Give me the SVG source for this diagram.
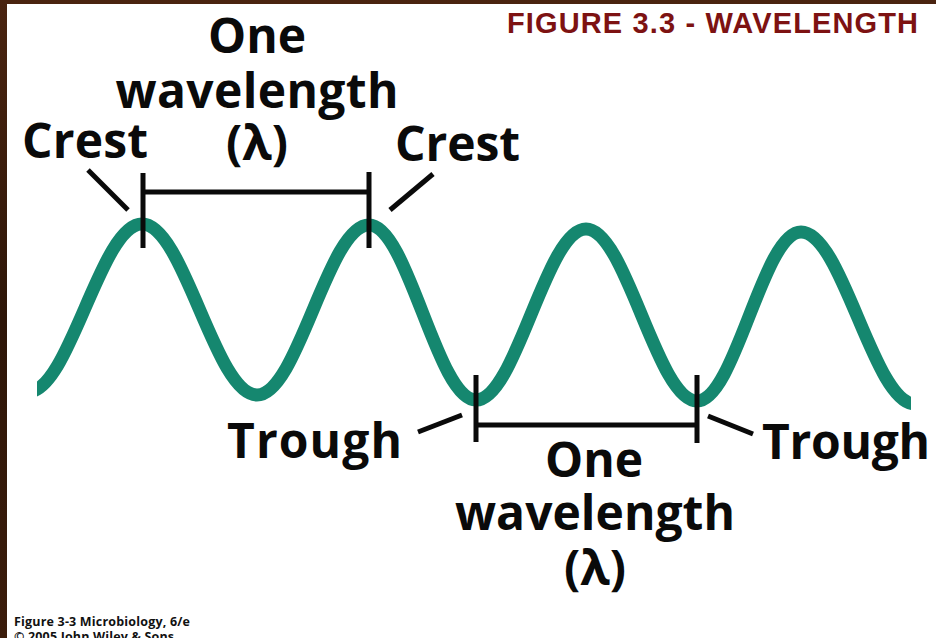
<svg xmlns="http://www.w3.org/2000/svg" width="936" height="638" viewBox="0 0 936 638">
<style>
.lbl{font-family:"Open Sans","DejaVu Sans",sans-serif;font-weight:700;font-size:48px;fill:#0a0a0a}
.mid{text-anchor:middle}
.ln{stroke:#0a0a0a;stroke-width:5;fill:none}
.wave{stroke:#15876f;stroke-width:13;fill:none}
</style>
<defs>
<linearGradient id="wood" x1="0" y1="0" x2="0" y2="1">
<stop offset="0" stop-color="#4a2410"/>
<stop offset="0.5" stop-color="#2e1608"/>
<stop offset="1" stop-color="#3b1c0b"/>
</linearGradient>
<clipPath id="wclip"><rect x="37" y="0" width="874" height="638"/></clipPath>
</defs>
<rect x="0" y="0" width="936" height="638" fill="url(#wood)"/>
<rect x="7" y="4" width="929" height="634" fill="#ffffff"/>

<g id="title"><text x="918" y="33" text-anchor="end" font-family="'Liberation Sans',Arial,sans-serif" font-weight="700" font-size="29" fill="#7d1212" textLength="411">FIGURE 3.3 - WAVELENGTH</text></g>

<g id="wave"><path class="wave" clip-path="url(#wclip)" d="M28,392 C69.5,392 100.5,224 142,224 C184,224 215,395 257,395 C298,395 328,225 369,225 C408,225 437,400 476,400 C516,400 546,229 586,229 C626,229 657,401 697,401 C735,401 763,232 801,232 C842.5,232 873.5,404 915,404"/></g>

<g id="connectors">
<path class="ln" d="M143,173 V248 M369,172 V248 M143,192 H369"/>
<path class="ln" d="M476,375 V442 M697,375 V443 M476,425 H697"/>
<path class="ln" d="M88,170 L128,210"/>
<path class="ln" d="M433,174 L390,210"/>
<path class="ln" d="M418,432 L462,415"/>
<path class="ln" d="M708,416 L753,434"/>
</g>

<g id="crest-left"><text class="lbl" x="22" y="158" textLength="126">Crest</text></g>
<g id="crest-right"><text class="lbl" x="395" y="161" textLength="125">Crest</text></g>
<g id="wavelength-top">
<text class="lbl mid" x="257" y="53">One</text>
<text class="lbl mid" x="257" y="108" textLength="283">wavelength</text>
<text class="lbl mid" x="257" y="160">(λ)</text>
</g>
<g id="trough-left"><text class="lbl" x="227" y="458" textLength="175">Trough</text></g>
<g id="trough-right"><text class="lbl" x="762" y="459" textLength="168">Trough</text></g>
<g id="wavelength-bottom">
<text class="lbl mid" x="594" y="477">One</text>
<text class="lbl mid" x="595" y="530" textLength="280">wavelength</text>
<text class="lbl mid" x="595" y="585">(λ)</text>
</g>
<g id="credit">
<text x="14" y="626" font-family="'Open Sans','DejaVu Sans',sans-serif" font-weight="700" font-size="12.5" fill="#111" textLength="176">Figure 3-3  Microbiology, 6/e</text>
<text x="14" y="641" font-family="'Open Sans','DejaVu Sans',sans-serif" font-weight="700" font-size="12.5" fill="#111" textLength="160">© 2005 John Wiley &amp; Sons</text>
</g>
</svg>
